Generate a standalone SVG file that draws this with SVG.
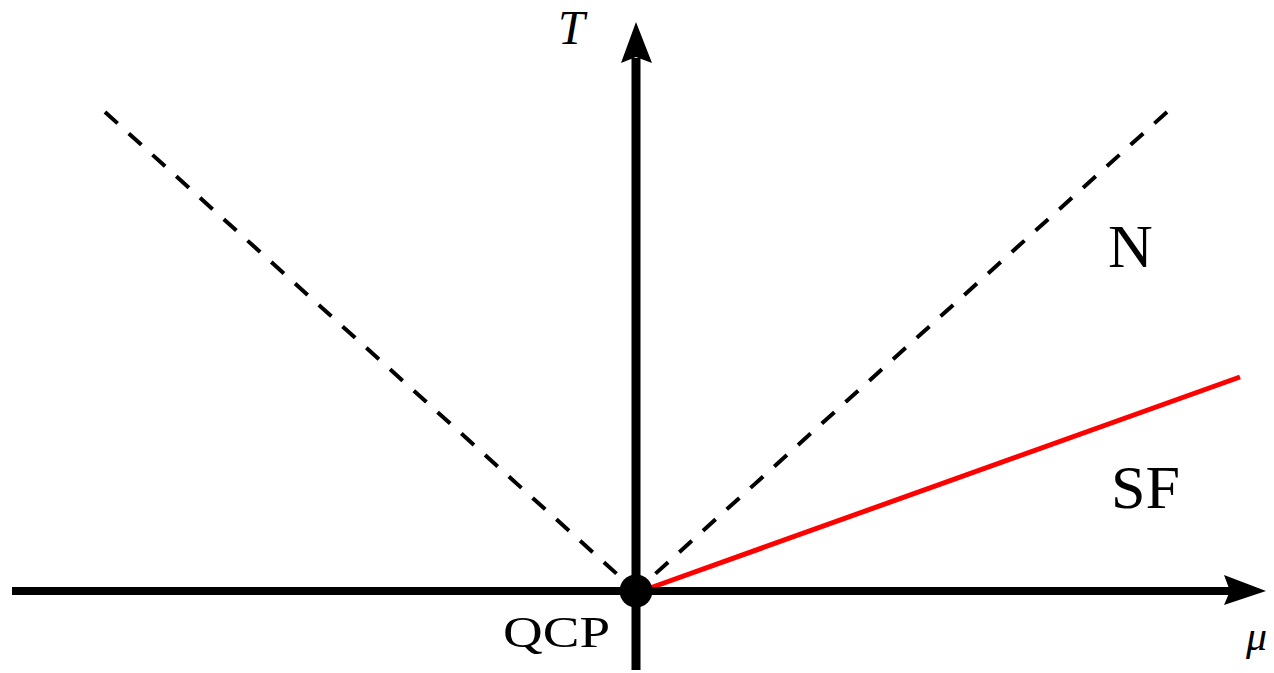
<svg xmlns="http://www.w3.org/2000/svg" width="1274" height="673" viewBox="0 0 1274 673">
<style>
.axis{stroke:#000;fill:none}
.dash{stroke:#000;stroke-width:4;stroke-dasharray:17 15;fill:none}
.lbl{font-family:"Liberation Serif","DejaVu Serif",serif;fill:#000}
</style>
<rect width="1274" height="673" fill="#fff"/>
<g id="connectors">
<line class="dash" x1="105" y1="112" x2="628" y2="584"/>
<line class="dash" x1="1167" y1="112" x2="644" y2="584"/>
<line x1="650" y1="588" x2="1240" y2="377" stroke="#f00" stroke-width="5"/>
<line class="axis" x1="12" y1="591" x2="1230" y2="591" stroke-width="8"/>
<polygon points="1266,591 1224,575 1230,591 1224,605" fill="#000"/>
<line class="axis" x1="636" y1="670" x2="636" y2="58" stroke-width="9"/>
<polygon points="636,22 621,63 636,57 652,63" fill="#000"/>
</g>
<g id="qcp">
<circle cx="636" cy="591" r="16.5" fill="#000"/>
<text class="lbl" x="503" y="647" font-size="44" textLength="107" lengthAdjust="spacingAndGlyphs">QCP</text>
</g>
<g id="T"><text class="lbl" x="558" y="44" font-size="48" font-style="italic">T</text></g>
<g id="mu"><text class="lbl" x="1246" y="650" font-size="42" font-style="italic">μ</text></g>
<g id="N"><text class="lbl" x="1108" y="267" font-size="62">N</text></g>
<g id="SF"><text class="lbl" x="1111" y="508" font-size="62">SF</text></g>
</svg>
